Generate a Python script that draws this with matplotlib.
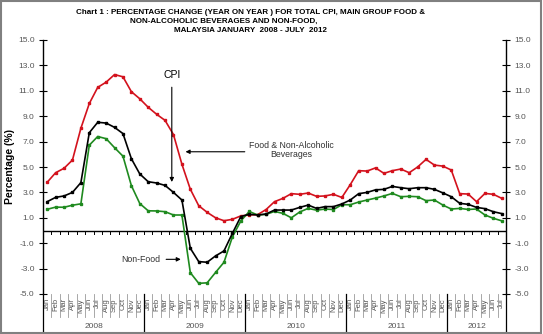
import numpy as np
import matplotlib
matplotlib.use('Agg')
import matplotlib.pyplot as plt
from matplotlib.patches import Rectangle
import matplotlib.transforms as mtransforms

plt.rcParams['font.family'] = ['Liberation Sans Narrow', 'Liberation Sans', 'DejaVu Sans']

months = ['Jan', 'Feb', 'Mar', 'Apr', 'May', 'Jun', 'Jul', 'Aug', 'Sep', 'Oct', 'Nov', 'Dec']
years = ['2008', '2009', '2010', '2011', '2012']
month_labels = months * 4 + months[:7]

# year-on-year % change, Jan 2008 - Jul 2012
food = [3.8, 4.55, 4.9, 5.55, 8.05, 10.0, 11.27, 11.68, 12.28, 12.1, 10.93, 10.37,
        9.7, 9.15, 8.67, 7.55, 5.22, 3.25, 1.95, 1.43, 1.0, 0.77, 0.88, 1.15,
        1.22, 1.25, 1.65, 2.27, 2.53, 2.9, 2.85, 2.95, 2.69, 2.72, 2.85, 2.6,
        3.61, 4.71, 4.68, 4.93, 4.5, 4.71, 4.84, 4.55, 5.0, 5.6, 5.15, 5.07,
        4.76, 2.9, 2.87, 2.27, 2.92, 2.85, 2.53]
cpi = [2.27, 2.61, 2.72, 3.0, 3.77, 7.7, 8.52, 8.46, 8.12, 7.63, 5.65, 4.45,
       3.84, 3.74, 3.55, 3.0, 2.4, -1.4, -2.45, -2.5, -2.0, -1.61, -0.22, 1.1,
       1.28, 1.22, 1.3, 1.61, 1.61, 1.61, 1.82, 2.0, 1.74, 1.88, 1.88, 2.09,
       2.4, 2.9, 3.0, 3.2, 3.24, 3.47, 3.37, 3.29, 3.37, 3.37, 3.24, 2.96,
       2.66, 2.14, 2.06, 1.82, 1.72, 1.48, 1.33]
nonfood = [1.67, 1.84, 1.83, 1.99, 2.1, 6.72, 7.4, 7.23, 6.52, 5.85, 3.53, 2.12,
           1.55, 1.54, 1.48, 1.22, 1.22, -3.32, -4.16, -4.12, -3.3, -2.5, -0.5, 0.75,
           1.5, 1.22, 1.27, 1.5, 1.35, 1.0, 1.46, 1.74, 1.6, 1.69, 1.65, 2.03,
           2.03, 2.24, 2.4, 2.55, 2.72, 2.92, 2.66, 2.69, 2.66, 2.35, 2.4, 2.0,
           1.69, 1.74, 1.66, 1.69, 1.22, 0.96, 0.76]

x = np.arange(len(cpi))
W, H = 543, 334

fig = plt.figure(figsize=(W / 100, H / 100), dpi=100)
fig.patches.append(Rectangle((0.002, 0.003), 0.995, 0.993, transform=fig.transFigure,
                             fill=False, edgecolor='#808080', linewidth=1.5))
ax = fig.add_axes([43 / W, 1 - 294 / H, (506 - 43) / W, (294 - 40) / H])

ax.plot(x, food, color='#d3121d', lw=1.2, marker='s', ms=2, zorder=3)
ax.plot(x, cpi, color='black', lw=1.2, marker='s', ms=2, zorder=4)
ax.plot(x, nonfood, color='#1f8a1f', lw=1.2, marker='s', ms=2, zorder=3)

ax.set_xlim(-0.5, len(x) - 0.5)
ax.set_ylim(-5, 15)
yt = np.arange(-5, 16, 2)
ax.set_yticks(yt)
ax.set_yticklabels(['%.1f' % v for v in yt])
ax.tick_params(axis='y', which='both', left=True, right=True, labelleft=True, labelright=True,
               direction='out', length=4, width=0.8, labelsize=6, labelcolor='#555555', pad=3)
ax.tick_params(axis='y', which='both', right=True, direction='inout', length=6)
ax.spines['top'].set_visible(False)
ax.spines['bottom'].set_visible(False)
for s in ['left', 'right']:
    ax.spines[s].set_linewidth(1.0)

ax.set_xticks(x)
ax.set_xticklabels(month_labels, rotation=90, fontsize=5.5, color='#555555')
ax.tick_params(axis='x', length=0, pad=3)

# zero line with small ticks between months
ax.axhline(0, color='black', lw=1.0, zorder=2)
for b in np.arange(-0.5, len(x), 1.0):
    ax.plot([b, b], [0, -0.3], color='black', lw=0.7, zorder=2)

# category separators beneath the plot
trans = mtransforms.blended_transform_factory(ax.transData, ax.transAxes)
for b in np.arange(0.5, len(x) - 1, 1.0):
    if (b + 0.5) % 12 == 0:
        continue
    ax.plot([b, b], [0, -23 / 254], color='#9a9a9a', lw=0.6, transform=trans, clip_on=False)
for b in [-0.5, 11.5, 23.5, 35.5, 47.5, len(x) - 0.5]:
    ax.plot([b, b], [0, -39 / 254], color='black', lw=0.9, transform=trans, clip_on=False)
starts = [0, 12, 24, 36, 48]
ends = [12, 24, 36, 48, len(x)]
for yr, s0, e0 in zip(years, starts, ends):
    ax.text((s0 + e0 - 1) / 2, -32 / 254, yr, transform=trans, ha='center', va='center',
            fontsize=6, color='#555555')

ax.set_ylabel('Percentage (%)', fontsize=7.5, fontweight='bold')
ax.yaxis.set_label_coords(-(43 - 15) / 463, 0.5)

# annotations
ax.text(14.8, 12.25, 'CPI', ha='center', va='center', fontsize=7.5)
ax.annotate('', xy=(14.8, 3.6), xytext=(14.8, 11.5),
            arrowprops=dict(arrowstyle='-|>', color='black', lw=0.8, mutation_scale=6))
ax.text(29.0, 6.3, 'Food & Non-Alcoholic\nBeverages', ha='center', va='center',
        fontsize=6.3, color='#333333', linespacing=1.0)
ax.annotate('', xy=(16.1, 6.2), xytext=(23.8, 6.2),
            arrowprops=dict(arrowstyle='-|>', color='black', lw=0.8, mutation_scale=6))
ax.text(11.1, -2.27, 'Non-Food', ha='center', va='center', fontsize=6.3, color='#333333')
ax.annotate('', xy=(16.2, -2.27), xytext=(13.8, -2.27),
            arrowprops=dict(arrowstyle='-|>', color='black', lw=0.8, mutation_scale=6))

# title
tkw = dict(ha='center', va='center', fontsize=5.8, fontweight='bold', transform=fig.transFigure)
fig.text(251 / W, 1 - 12 / H, 'Chart 1 : PERCENTAGE CHANGE (YEAR ON YEAR ) FOR TOTAL CPI, MAIN GROUP FOOD &', **tkw)
fig.text(224 / W, 1 - 21 / H, 'NON-ALCOHOLIC BEVERAGES AND NON-FOOD,', **tkw)
fig.text(250 / W, 1 - 30 / H, 'MALAYSIA JANUARY  2008 - JULY  2012', **tkw)

fig.savefig('out.png', dpi=100)
